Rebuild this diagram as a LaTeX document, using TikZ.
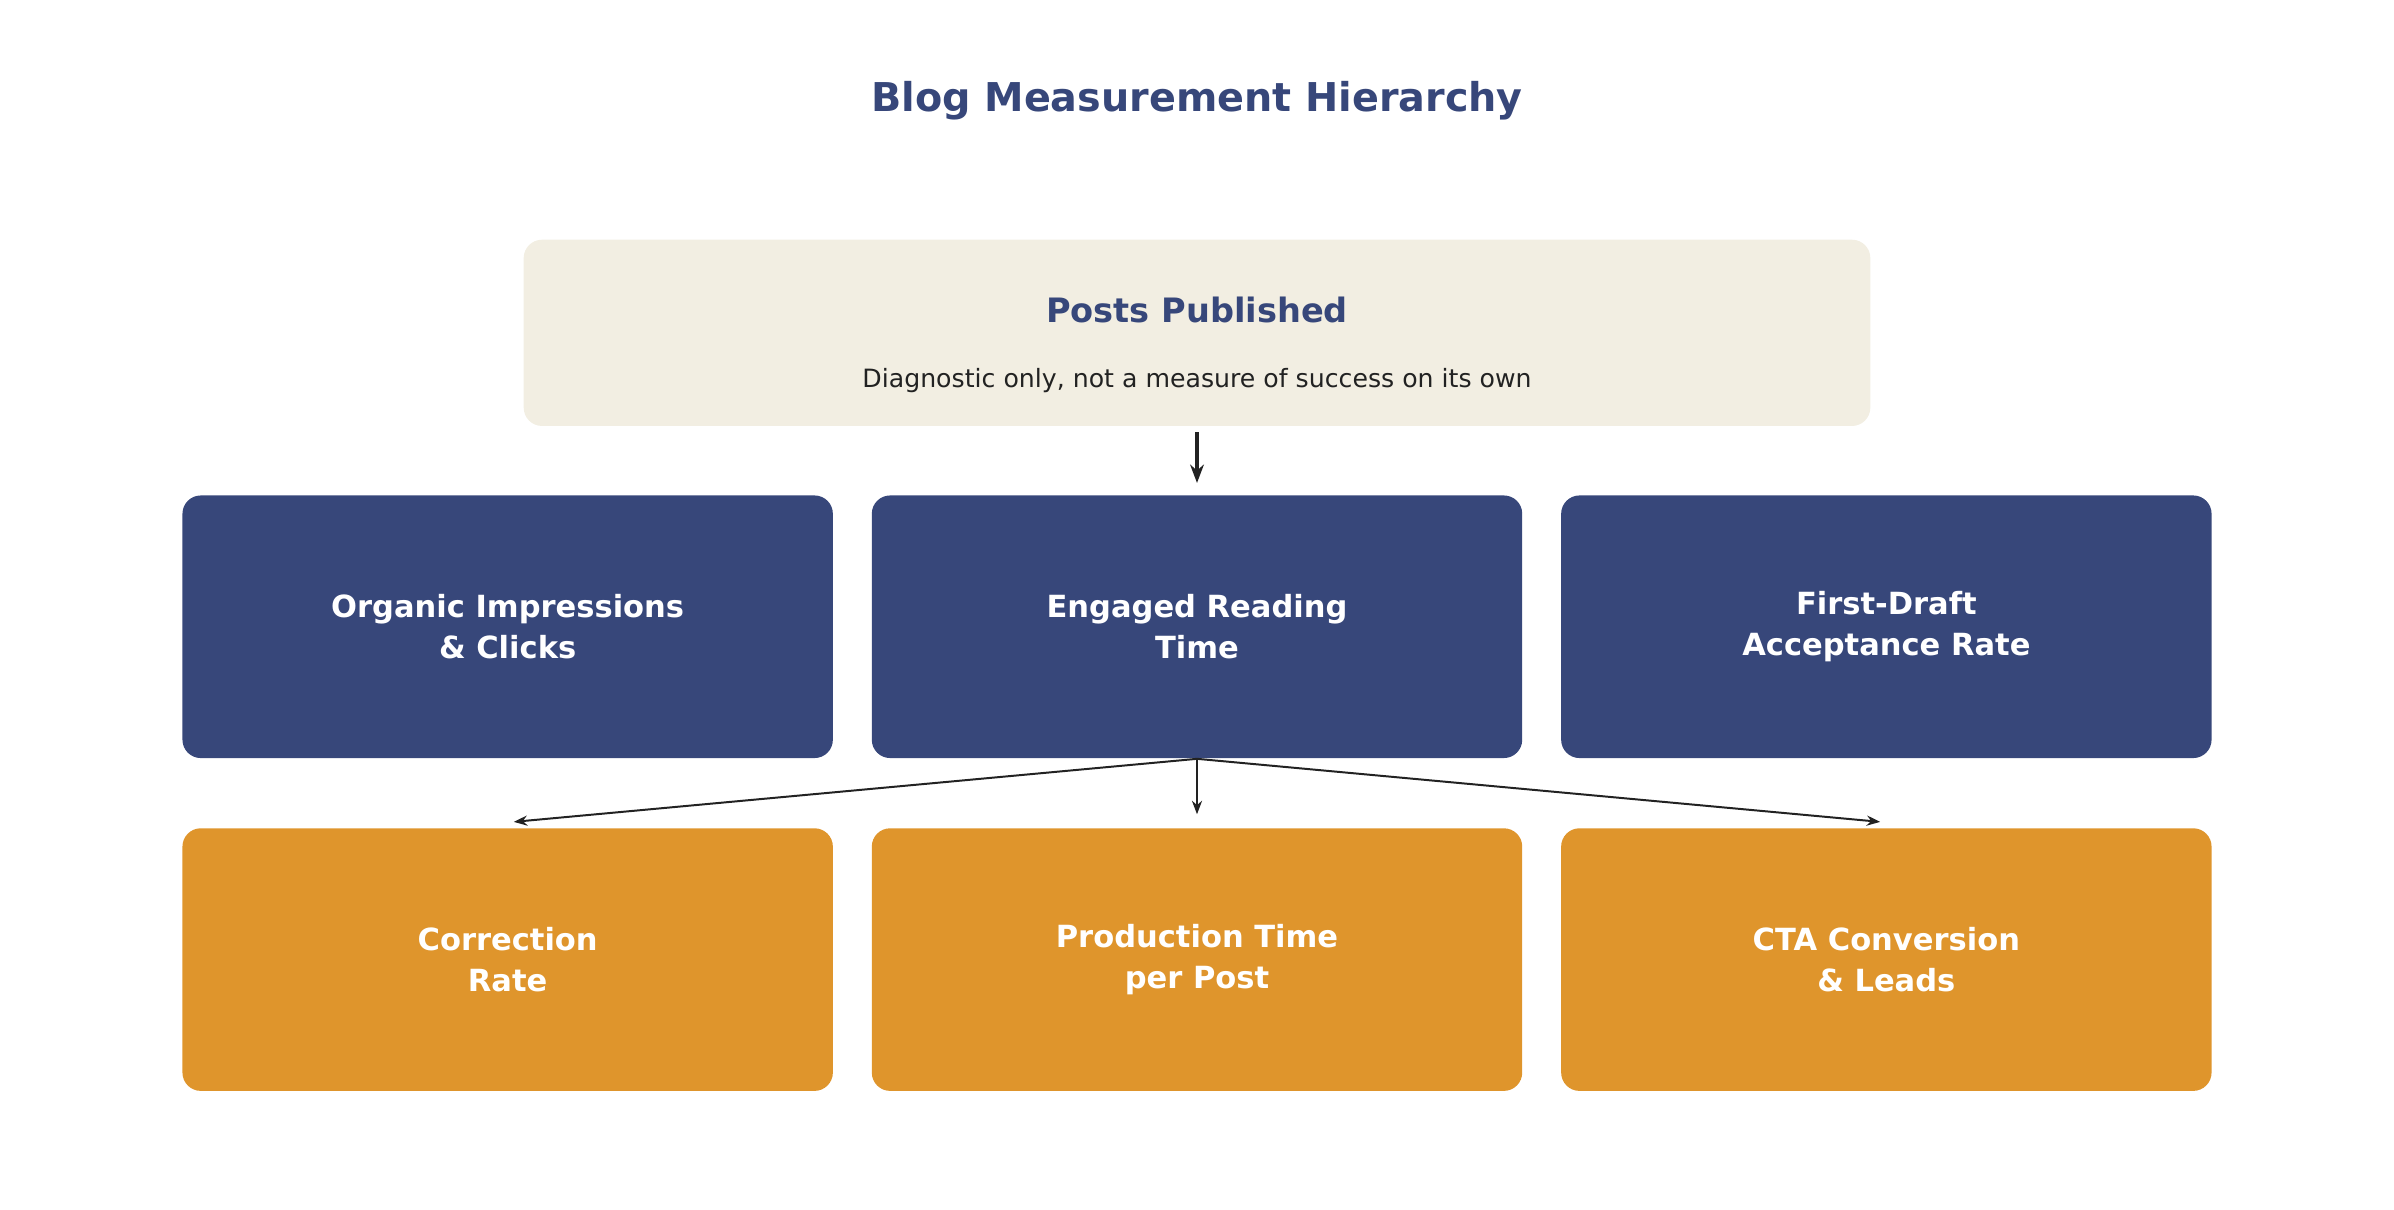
\documentclass[tikz,border=0pt]{standalone}
\usepackage{fontspec}
\setmainfont{DejaVu Sans}
\usetikzlibrary{arrows.meta}
\definecolor{navy}{HTML}{37477A}
\definecolor{amber}{HTML}{DF952C}
\definecolor{cream}{HTML}{F2EEE2}
\definecolor{ink}{HTML}{222222}
\tikzset{>=Stealth,
  box/.style={rounded corners=12pt, minimum width=426pt, minimum height=172pt,
    align=center, text=white, font=\fontsize{20}{27}\selectfont\bfseries, inner sep=0pt},
  metric/.style={box, fill=navy},
  driver/.style={box, fill=amber},
  link/.style={->, ink, line width=1.3pt}}
\begin{document}
\begin{tikzpicture}[x=1pt,y=-1pt]
\useasboundingbox (0,0) rectangle (1568,792);
\node[text=navy, font=\fontsize{26}{30}\selectfont\bfseries] (title) at (784,66) {Blog Measurement Hierarchy};
\node[fill=cream, rounded corners=12pt, minimum width=882pt, minimum height=122pt] (posts) at (784,218) {};
\node[text=navy, font=\fontsize{22}{26}\selectfont\bfseries] (postsT) at (784,203) {Posts Published};
\node[text=ink, font=\fontsize{16.5}{20}\selectfont] (postsS) at (784,249) {Diagnostic only, not a measure of success on its own};
\node[metric] (organic) at (332.5,410.5) {Organic Impressions\\\& Clicks};
\node[metric] (reading) at (784,410.5) {Engaged Reading\\Time};
\node[metric] (accept) at (1235.5,410.5) {First-Draft\\Acceptance Rate};
\node[driver] (correct) at (332.5,628.5) {Correction\\Rate};
\node[driver] (prod) at (784,628.5) {Production Time\\per Post};
\node[driver] (cta) at (1235.5,628.5) {CTA Conversion\\\& Leads};
\coordinate (split) at (784,497);
\draw[link, line width=2pt] ([yshift=-4pt]posts.south) -- ([yshift=8pt]reading.north);
\draw[link] (split) -- ([shift={(4pt,4pt)}]correct.north);
\draw[link] (split) -- ([yshift=9pt]prod.north);
\draw[link] (split) -- ([shift={(-4pt,4pt)}]cta.north);
\end{tikzpicture}
\end{document}
